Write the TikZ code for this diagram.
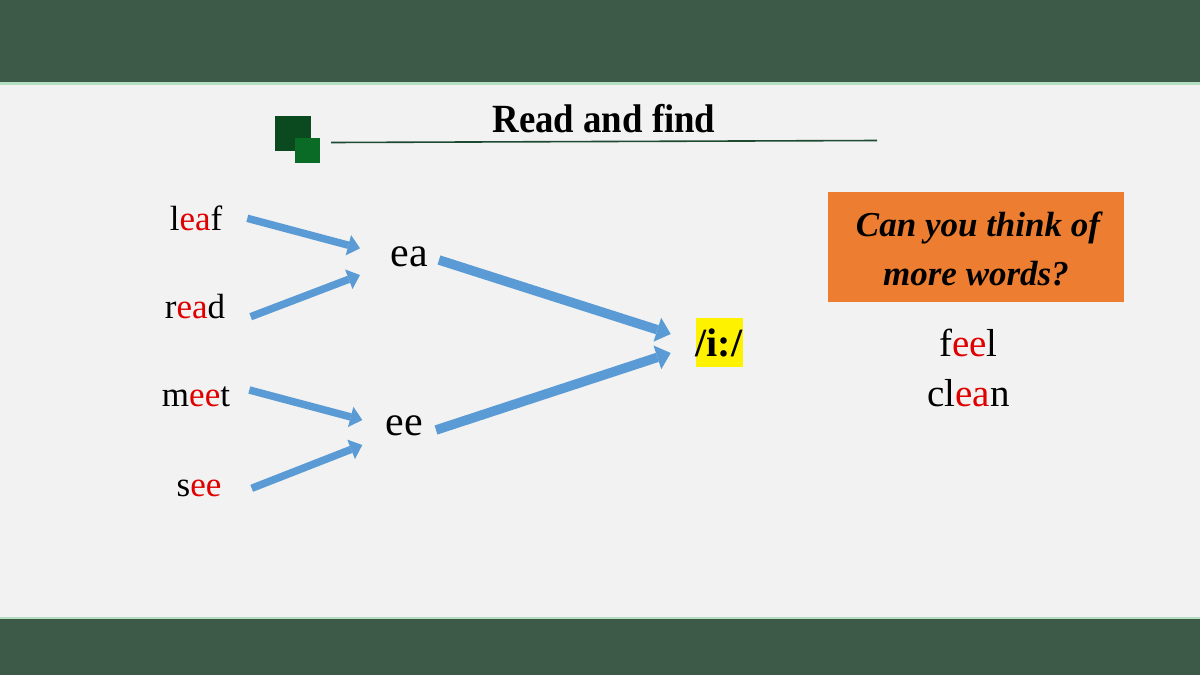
\documentclass[tikz,border=0pt]{standalone}
\usepackage{fontspec}
\setmainfont{Liberation Serif}
\usetikzlibrary{arrows.meta}
\definecolor{band}{HTML}{3C5A47}
\definecolor{bandline}{HTML}{B3DEC1}
\definecolor{bg}{HTML}{F2F2F2}
\definecolor{arrowblue}{HTML}{5B9BD5}
\definecolor{wordred}{HTML}{E00000}
\definecolor{sqdark}{HTML}{0B4A1E}
\definecolor{sqlight}{HTML}{0A6B26}
\definecolor{titleline}{HTML}{1E4A32}
\definecolor{boxorange}{HTML}{ED7D31}
\newcommand{\rd}[1]{\textcolor{wordred}{#1}}
\tikzset{
  word/.style={anchor=base, inner sep=0pt, font=\fontsize{35}{40}\selectfont},
  group/.style={anchor=base, inner sep=0pt, font=\fontsize{42}{48}\selectfont},
  thin arrow/.style={draw=arrowblue, line width=7.5pt, -{Triangle[length=12pt 0 0,width=21pt 0 0,line width=0pt]}},
  thick arrow/.style={draw=arrowblue, line width=9.5pt, -{Triangle[length=14pt 0 0,width=25pt 0 0,line width=0pt]}},
}
\begin{document}
\begin{tikzpicture}[x=1pt,y=-1pt]
\useasboundingbox (0,0) rectangle (1200,675);
% background and bands
\fill[bg] (0,0) rectangle (1200,675);
\fill[band] (0,0) rectangle (1200,82);
\fill[bandline] (0,82) rectangle (1200,85);
\fill[bandline] (0,616.5) rectangle (1200,619);
\fill[band] (0,619) rectangle (1200,675);
% title decoration
\fill[sqdark] (275,115.5) rectangle (311,150.5);
\fill[sqlight] (295,137.5) rectangle (319.5,162.5);
\coordinate (tl1) at (331,142.5);
\coordinate (tl2) at (877,140.5);
\draw[titleline, line width=1.6pt] (tl1) -- (tl2);
\node[anchor=base, inner sep=0pt, font=\fontsize{40}{46}\selectfont\bfseries] (title) at (604,132) {\scalebox{0.92}[1]{Read and find}};
% words
\node[word] (leaf) at (196,230.7) {l\rd{ea}f};
\node[word] (read) at (195,318.3) {r\rd{ea}d};
\node[word] (meet) at (196,406.7) {m\rd{ee}t};
\node[word] (see)  at (199,496) {s\rd{ee}};
\node[group] (ea) at (409,266) {ea};
\node[group] (ee) at (404,435.7) {ee};
% phoneme
\fill[yellow] (696,318.3) rectangle (742.5,366.5);
\node[anchor=base, inner sep=0pt, font=\fontsize{40}{46}\selectfont\bfseries] (ii) at (719,356) {/i:/};
% arrow end points
\coordinate (a1s) at (247.3,218.3); \coordinate (a1e) at (360,248.3);
\coordinate (a2s) at (250.7,316.7); \coordinate (a2e) at (360,275);
\coordinate (a3s) at (249.3,390);   \coordinate (a3e) at (362.3,420);
\coordinate (a4s) at (251.7,488.3); \coordinate (a4e) at (362.3,445);
\coordinate (a5s) at (439,260);     \coordinate (a5e) at (670.7,334);
\coordinate (a6s) at (436,430);     \coordinate (a6e) at (670.7,353);
\draw[thin arrow] (a1s) -- (a1e);
\draw[thin arrow] (a2s) -- (a2e);
\draw[thin arrow] (a3s) -- (a3e);
\draw[thin arrow] (a4s) -- (a4e);
\draw[thick arrow] (a5s) -- (a5e);
\draw[thick arrow] (a6s) -- (a6e);
% question box
\node[fill=boxorange, inner sep=0pt, minimum width=296pt, minimum height=110.6pt] (qbox) at (976,247) {};
\node[anchor=base, inner sep=0pt, font=\fontsize{35}{40}\selectfont\bfseries\itshape] (q1) at (978,236.7) {Can you think of};
\node[anchor=base, inner sep=0pt, font=\fontsize{35}{40}\selectfont\bfseries\itshape] (q2) at (976,285) {more words?};
% more words
\node[anchor=base, inner sep=0pt, font=\fontsize{39}{44}\selectfont] (feel) at (968.5,356.7) {f\rd{ee}l};
\node[anchor=base, inner sep=0pt, font=\fontsize{39}{44}\selectfont] (clean) at (968.5,406.7) {cl\rd{ea}n};
\end{tikzpicture}
\end{document}
